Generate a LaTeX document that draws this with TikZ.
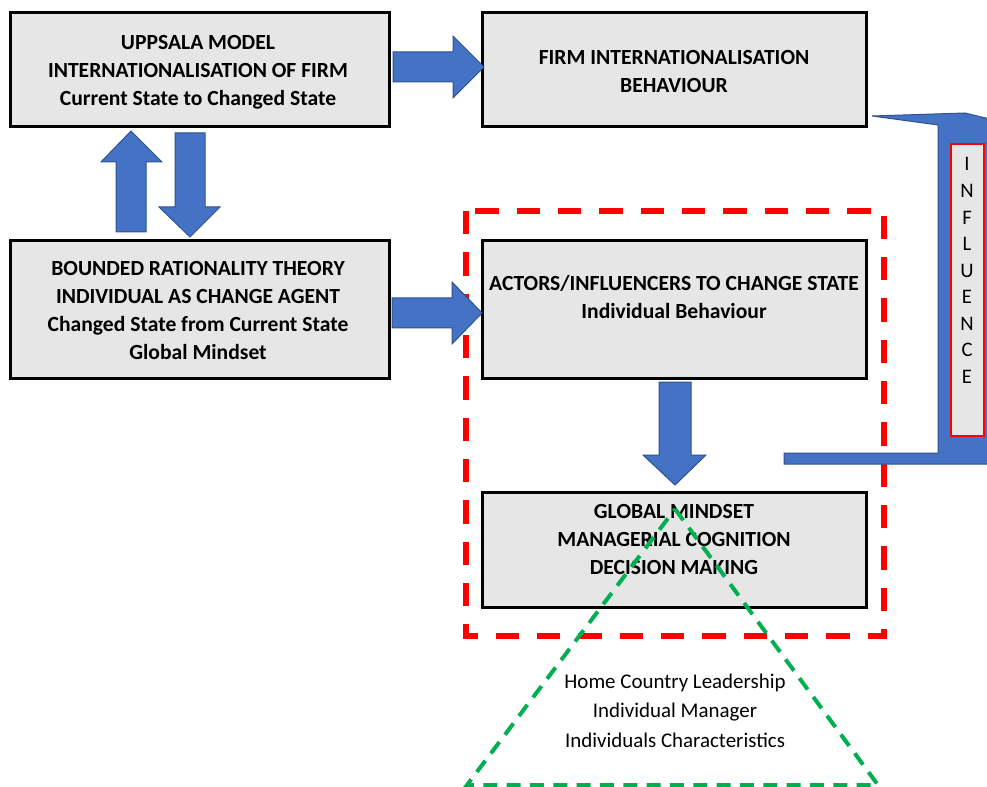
\documentclass[tikz,border=0pt]{standalone}
\usepackage{fontspec}
\setmainfont{Carlito}
\definecolor{boxgray}{HTML}{E6E6E6}
\definecolor{arrowblue}{HTML}{4472C4}
\definecolor{arrowedge}{HTML}{2F528F}
\definecolor{groupred}{HTML}{FF0000}
\definecolor{basegreen}{HTML}{00B050}
\begin{document}
\begin{tikzpicture}[x=0.75pt,y=-0.75pt,
  box/.style={draw=black, line width=2.25pt, fill=boxgray, inner sep=0pt},
  boxtext/.style={font=\fontsize{16.2}{21}\selectfont\bfseries, align=center, inner sep=0pt},
  plaintext/.style={font=\fontsize{15.7}{22}\selectfont, align=center, inner sep=0pt},
  blockarrow/.style={fill=arrowblue, draw=arrowedge, line width=0.75pt, line join=miter},
  groupframe/.style={draw=groupred, line width=4pt, dash pattern=on 17.5pt off 13.5pt},
  basetriangle/.style={draw=basegreen, line width=3pt, dash pattern=on 10.5pt off 7pt}]
\useasboundingbox (0,0) rectangle (987,787);

% main boxes
\node[box, minimum width=379*0.75pt, minimum height=114*0.75pt] (uppsala) at (199.5,70) {};
\node[box, minimum width=384*0.75pt, minimum height=114*0.75pt] (firm) at (674,70) {};
\node[box, minimum width=379*0.75pt, minimum height=137*0.75pt] (bounded) at (199.5,309.5) {};
\node[box, minimum width=384*0.75pt, minimum height=137*0.75pt] (actors) at (674,309.5) {};
\node[box, minimum width=384*0.75pt, minimum height=115*0.75pt] (mindset) at (674,549.5) {};

% box texts
\node[boxtext] (uppsalaT) at (198,72) {UPPSALA MODEL\\INTERNATIONALISATION OF FIRM\\Current State to Changed State};
\node[boxtext] (firmT) at (674,72) {FIRM INTERNATIONALISATION\\BEHAVIOUR};
\node[boxtext] (boundedT) at (198,310.5) {BOUNDED RATIONALITY THEORY\\INDIVIDUAL AS CHANGE AGENT\\Changed State from Current State\\Global Mindset};
\node[boxtext] (actorsT) at (674,297) {ACTORS/INFLUENCERS TO CHANGE STATE\\Individual Behaviour};
\node[boxtext] (mindsetT) at (674,539) {GLOBAL MINDSET\\MANAGERIAL COGNITION\\DECISION MAKING};

% dashed group frame round the individual level
\draw[groupframe] (466,211) rectangle (884,636);

% block arrows
\draw[blockarrow] (393,52) -- (453,52) -- (453,36) -- (484,67) -- (453,98) -- (453,82) -- (393,82) -- cycle;
\draw[blockarrow] (392,298) -- (452,298) -- (452,282) -- (482,313) -- (452,344) -- (452,328) -- (392,328) -- cycle;
\draw[blockarrow] (116,232) -- (116,162) -- (101,162) -- (131,131) -- (162,162) -- (146,162) -- (146,232) -- cycle;
\draw[blockarrow] (175,133) -- (205,133) -- (205,207) -- (220,207) -- (190,237) -- (159,207) -- (175,207) -- cycle;
\draw[blockarrow] (659,382) -- (691,382) -- (691,455) -- (706,455) -- (675,485) -- (643,455) -- (659,455) -- cycle;

% bent influence arrow, running off the right edge
\begin{scope}
  \clip (0,0) rectangle (987,787);
  \draw[blockarrow] (872,116) -- (965,113) -- (1010,124) -- (1010,464) -- (784,464) -- (784,453) -- (938,453) -- (938,125) -- cycle;
\end{scope}
\node[draw=groupred, line width=1.5pt, fill=boxgray, minimum width=33*0.75pt, minimum height=291*0.75pt, inner sep=0pt] (influence) at (967,290) {};
\node[font=\fontsize{15.5}{19.9}\selectfont, align=center, inner sep=0pt] (influenceT) at (967,270.5) {I\\N\\F\\L\\U\\E\\N\\C\\E};

% base triangle
\draw[basetriangle] (675,509) -- (878,785) -- (467,785) -- cycle;
\node[plaintext] (baseT) at (675,710.5) {Home Country Leadership\\Individual Manager\\Individuals Characteristics};
\end{tikzpicture}
\end{document}
